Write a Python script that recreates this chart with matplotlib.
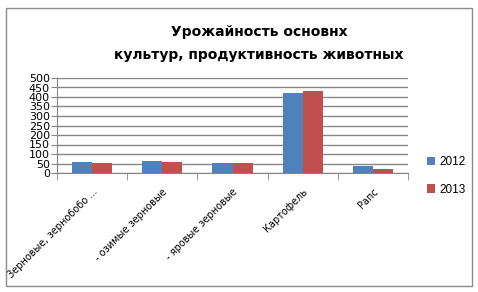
# Урожайность - bar chart 2012 / 2013

import numpy as np
import matplotlib.pyplot as plt
from matplotlib.patches import Rectangle

# -----------------------------------------------
# Data
# -----------------------------------------------

categories = ['Зерновые, зернобобо ...', '- озимые зерновые', '- яровые зерновые',
              'Картофель', 'Рапс']
values_2012 = [60, 65, 55, 420, 37]
values_2013 = [55, 60, 55, 430, 21]
years = ['2012', '2013']
y_ticks = list(range(0, 501, 50))

blue = '#4F81BD'
red = '#C0504D'
grid_col = '#868686'

# -----------------------------------------------
# Figure
# -----------------------------------------------

fig = plt.figure(figsize=(4.78, 2.92), dpi=100)
fig.patch.set_facecolor('white')

# outer border of the chart area
fig.patches.append(Rectangle((6 / 478, 1 - 286 / 292), 466 / 478, 278 / 292,
                             transform=fig.transFigure, fill=False,
                             edgecolor='#8c8c8c', linewidth=1.0))

ax = fig.add_axes([57 / 478, 1 - 173 / 292, 351 / 478, 95 / 292])

x = np.arange(len(categories))
w = 0.285
b1 = ax.bar(x - w / 2, values_2012, w, color=blue, label=years[0], zorder=3)
b2 = ax.bar(x + w / 2, values_2013, w, color=red, label=years[1], zorder=3)

ax.set_xlim(-0.5, len(categories) - 0.5)
ax.set_ylim(0, 500)
ax.set_yticks(y_ticks)
ax.tick_params(axis='y', labelsize=8, length=4, color=grid_col, pad=1)
ax.yaxis.grid(True, color=grid_col, linewidth=1.0, zorder=0)
ax.set_axisbelow(True)

# category boundaries as tick marks, labels at centres
ax.set_xticks(np.arange(-0.5, len(categories)), minor=True)
ax.set_xticks(x)
ax.set_xticklabels(categories, rotation=45, ha='right', rotation_mode='anchor',
                   fontsize=7)
ax.tick_params(axis='x', which='major', length=0, pad=10)
ax.tick_params(axis='x', which='minor', length=5, color=grid_col)

for side in ['top', 'right']:
    ax.spines[side].set_visible(False)
ax.spines['left'].set_color(grid_col)
ax.spines['bottom'].set_color(grid_col)

fig.text(259 / 478, 1 - 32 / 292, 'Урожайность основнх', ha='center', va='center',
         fontsize=10, fontweight='bold')
fig.text(259 / 478, 1 - 55 / 292, 'культур, продуктивность животных', ha='center',
         va='center', fontsize=10, fontweight='bold')

fig.legend(handles=[b1, b2], labels=years, loc='center left',
           bbox_to_anchor=(416 / 478, 1 - 176 / 292), frameon=False,
           prop={'family': 'Liberation Sans', 'size': 8.5},
           handlelength=0.7, handleheight=0.7,
           handletextpad=0.4, labelspacing=1.3)

plt.savefig('out.png', dpi=100)
